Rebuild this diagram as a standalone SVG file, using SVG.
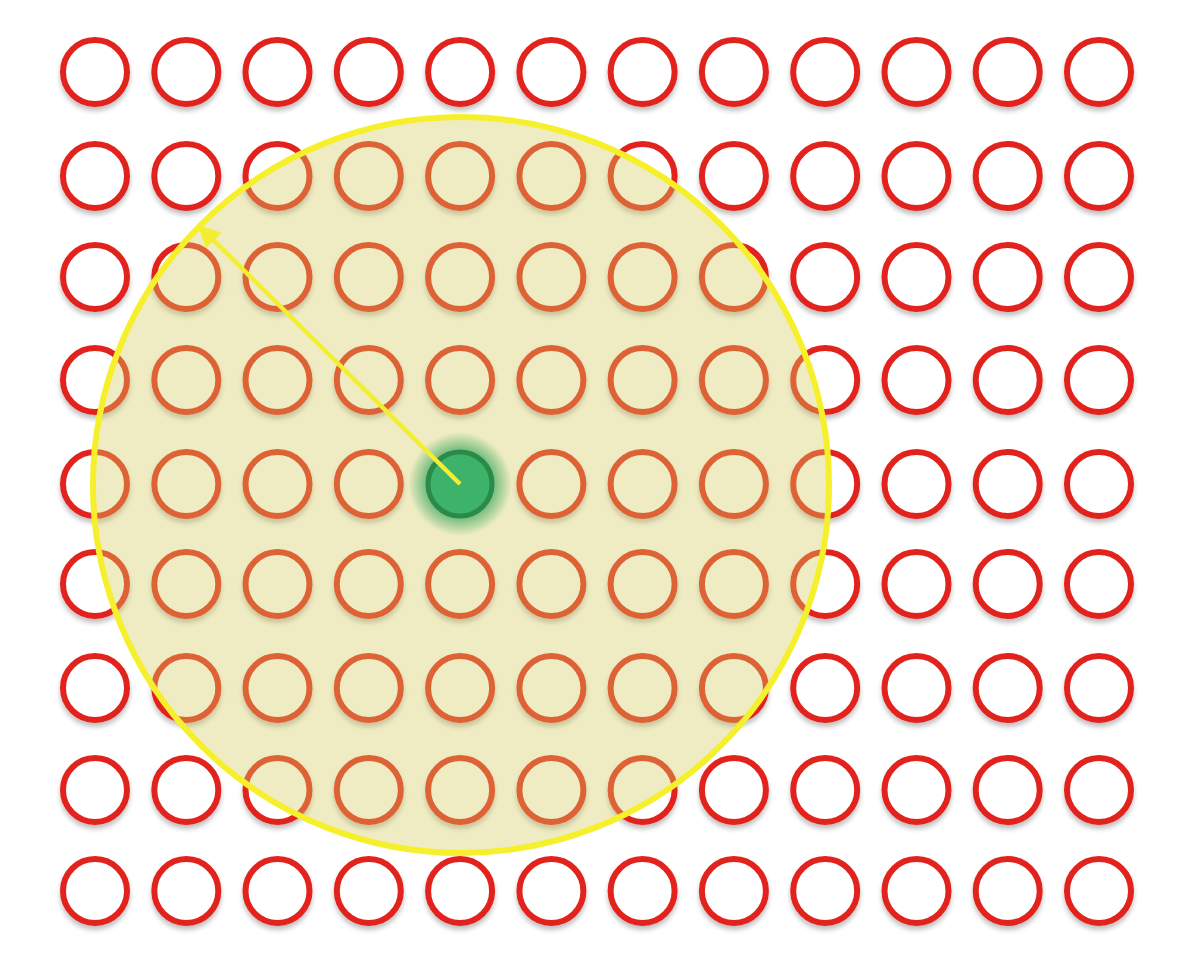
<svg xmlns="http://www.w3.org/2000/svg" width="1184" height="962" viewBox="0 0 1184 962">
<defs>
<style>
.n{fill:#ffffff;stroke:#e2231f;stroke-width:6;}
.area{fill:#d4cc60;fill-opacity:0.38;stroke:#f6f02c;stroke-width:6;}
.arrow{stroke:#f4ee30;stroke-width:4.5;fill:none;}
</style>
<filter id="sh" x="-30%" y="-30%" width="160%" height="170%">
<feGaussianBlur in="SourceAlpha" stdDeviation="2.5"/>
<feOffset dx="0" dy="4" result="b"/>
<feComponentTransfer><feFuncA type="linear" slope="0.25"/></feComponentTransfer>
<feMerge><feMergeNode/><feMergeNode in="SourceGraphic"/></feMerge>
</filter>
<radialGradient id="glow">
<stop offset="0.55" stop-color="#2aa052" stop-opacity="0.8"/>
<stop offset="1" stop-color="#2aa052" stop-opacity="0"/>
</radialGradient>
<marker id="ah" viewBox="0 0 10 10" refX="8" refY="5" markerWidth="5" markerHeight="5" orient="auto" markerUnits="strokeWidth">
<path d="M0,0 L10,5 L0,10 z" fill="#f4ee30"/>
</marker>
</defs>
<rect width="1184" height="962" fill="#ffffff"/>
<g id="grid" filter="url(#sh)">
<g id="r0"><circle class="n" cx="95" cy="72" r="32"/><circle class="n" cx="186.3" cy="72" r="32"/><circle class="n" cx="277.5" cy="72" r="32"/><circle class="n" cx="368.8" cy="72" r="32"/><circle class="n" cx="460.1" cy="72" r="32"/><circle class="n" cx="551.4" cy="72" r="32"/><circle class="n" cx="642.6" cy="72" r="32"/><circle class="n" cx="733.9" cy="72" r="32"/><circle class="n" cx="825.2" cy="72" r="32"/><circle class="n" cx="916.5" cy="72" r="32"/><circle class="n" cx="1007.7" cy="72" r="32"/><circle class="n" cx="1099" cy="72" r="32"/></g>
<g id="r1"><circle class="n" cx="95" cy="176" r="32"/><circle class="n" cx="186.3" cy="176" r="32"/><circle class="n" cx="277.5" cy="176" r="32"/><circle class="n" cx="368.8" cy="176" r="32"/><circle class="n" cx="460.1" cy="176" r="32"/><circle class="n" cx="551.4" cy="176" r="32"/><circle class="n" cx="642.6" cy="176" r="32"/><circle class="n" cx="733.9" cy="176" r="32"/><circle class="n" cx="825.2" cy="176" r="32"/><circle class="n" cx="916.5" cy="176" r="32"/><circle class="n" cx="1007.7" cy="176" r="32"/><circle class="n" cx="1099" cy="176" r="32"/></g>
<g id="r2"><circle class="n" cx="95" cy="277" r="32"/><circle class="n" cx="186.3" cy="277" r="32"/><circle class="n" cx="277.5" cy="277" r="32"/><circle class="n" cx="368.8" cy="277" r="32"/><circle class="n" cx="460.1" cy="277" r="32"/><circle class="n" cx="551.4" cy="277" r="32"/><circle class="n" cx="642.6" cy="277" r="32"/><circle class="n" cx="733.9" cy="277" r="32"/><circle class="n" cx="825.2" cy="277" r="32"/><circle class="n" cx="916.5" cy="277" r="32"/><circle class="n" cx="1007.7" cy="277" r="32"/><circle class="n" cx="1099" cy="277" r="32"/></g>
<g id="r3"><circle class="n" cx="95" cy="380" r="32"/><circle class="n" cx="186.3" cy="380" r="32"/><circle class="n" cx="277.5" cy="380" r="32"/><circle class="n" cx="368.8" cy="380" r="32"/><circle class="n" cx="460.1" cy="380" r="32"/><circle class="n" cx="551.4" cy="380" r="32"/><circle class="n" cx="642.6" cy="380" r="32"/><circle class="n" cx="733.9" cy="380" r="32"/><circle class="n" cx="825.2" cy="380" r="32"/><circle class="n" cx="916.5" cy="380" r="32"/><circle class="n" cx="1007.7" cy="380" r="32"/><circle class="n" cx="1099" cy="380" r="32"/></g>
<g id="r4"><circle class="n" cx="95" cy="484" r="32"/><circle class="n" cx="186.3" cy="484" r="32"/><circle class="n" cx="277.5" cy="484" r="32"/><circle class="n" cx="368.8" cy="484" r="32"/><circle class="n" cx="551.4" cy="484" r="32"/><circle class="n" cx="642.6" cy="484" r="32"/><circle class="n" cx="733.9" cy="484" r="32"/><circle class="n" cx="825.2" cy="484" r="32"/><circle class="n" cx="916.5" cy="484" r="32"/><circle class="n" cx="1007.7" cy="484" r="32"/><circle class="n" cx="1099" cy="484" r="32"/></g>
<g id="r5"><circle class="n" cx="95" cy="584" r="32"/><circle class="n" cx="186.3" cy="584" r="32"/><circle class="n" cx="277.5" cy="584" r="32"/><circle class="n" cx="368.8" cy="584" r="32"/><circle class="n" cx="460.1" cy="584" r="32"/><circle class="n" cx="551.4" cy="584" r="32"/><circle class="n" cx="642.6" cy="584" r="32"/><circle class="n" cx="733.9" cy="584" r="32"/><circle class="n" cx="825.2" cy="584" r="32"/><circle class="n" cx="916.5" cy="584" r="32"/><circle class="n" cx="1007.7" cy="584" r="32"/><circle class="n" cx="1099" cy="584" r="32"/></g>
<g id="r6"><circle class="n" cx="95" cy="688" r="32"/><circle class="n" cx="186.3" cy="688" r="32"/><circle class="n" cx="277.5" cy="688" r="32"/><circle class="n" cx="368.8" cy="688" r="32"/><circle class="n" cx="460.1" cy="688" r="32"/><circle class="n" cx="551.4" cy="688" r="32"/><circle class="n" cx="642.6" cy="688" r="32"/><circle class="n" cx="733.9" cy="688" r="32"/><circle class="n" cx="825.2" cy="688" r="32"/><circle class="n" cx="916.5" cy="688" r="32"/><circle class="n" cx="1007.7" cy="688" r="32"/><circle class="n" cx="1099" cy="688" r="32"/></g>
<g id="r7"><circle class="n" cx="95" cy="790" r="32"/><circle class="n" cx="186.3" cy="790" r="32"/><circle class="n" cx="277.5" cy="790" r="32"/><circle class="n" cx="368.8" cy="790" r="32"/><circle class="n" cx="460.1" cy="790" r="32"/><circle class="n" cx="551.4" cy="790" r="32"/><circle class="n" cx="642.6" cy="790" r="32"/><circle class="n" cx="733.9" cy="790" r="32"/><circle class="n" cx="825.2" cy="790" r="32"/><circle class="n" cx="916.5" cy="790" r="32"/><circle class="n" cx="1007.7" cy="790" r="32"/><circle class="n" cx="1099" cy="790" r="32"/></g>
<g id="r8"><circle class="n" cx="95" cy="891" r="32"/><circle class="n" cx="186.3" cy="891" r="32"/><circle class="n" cx="277.5" cy="891" r="32"/><circle class="n" cx="368.8" cy="891" r="32"/><circle class="n" cx="460.1" cy="891" r="32"/><circle class="n" cx="551.4" cy="891" r="32"/><circle class="n" cx="642.6" cy="891" r="32"/><circle class="n" cx="733.9" cy="891" r="32"/><circle class="n" cx="825.2" cy="891" r="32"/><circle class="n" cx="916.5" cy="891" r="32"/><circle class="n" cx="1007.7" cy="891" r="32"/><circle class="n" cx="1099" cy="891" r="32"/></g>
</g>
<g id="radius-area">
<circle class="area" cx="461" cy="485" r="368"/>
</g>
<g id="center-node">
<circle cx="460" cy="484" r="52" fill="url(#glow)"/>
<circle cx="460" cy="484" r="32" fill="#3db36a" stroke="#2a8a4a" stroke-width="5"/>
</g>
<g id="connectors">
<line class="arrow" x1="460" y1="484" x2="201" y2="228" marker-end="url(#ah)"/>
</g>
</svg>
